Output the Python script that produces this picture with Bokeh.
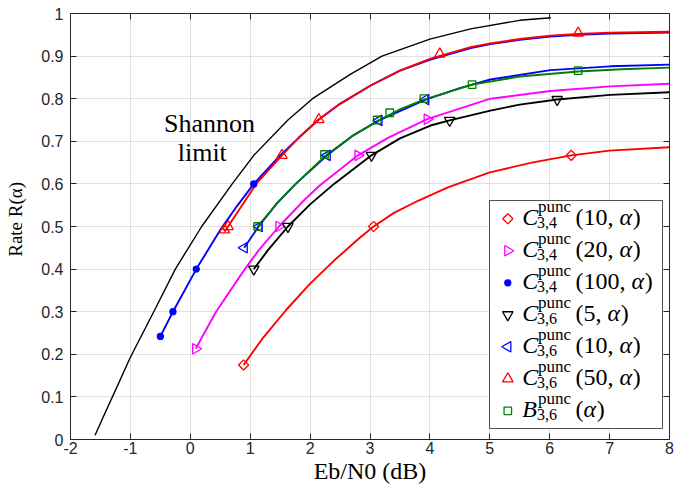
import math
from bokeh.plotting import figure
from bokeh.models import Range1d, LinearAxis, FixedTicker, ColumnDataSource, CustomJSTickFormatter
from bokeh.core.properties import value
from bokeh.embed import file_html
from bokeh.resources import INLINE

# ---------------- data ----------------
x_ticks = [-2, -1, 0, 1, 2, 3, 4, 5, 6, 7, 8]
x_tick_labels = ["-2", "-1", "0", "1", "2", "3", "4", "5", "6", "7", "8"]
y_ticks = [0.0, 0.1, 0.2, 0.3, 0.4, 0.5, 0.6, 0.7, 0.8, 0.9, 1.0]
y_tick_labels = ["0", "0.1", "0.2", "0.3", "0.4", "0.5", "0.6", "0.7", "0.8", "0.9", "1"]

shannon_x = [-1.59, -1.45, -1.30, -1.00, -0.61, -0.25, 0.19, 0.70, 1.06, 1.63, 2.04, 2.67, 3.20, 4.00, 4.68, 5.50, 6.02]
shannon_y = [0.01, 0.054, 0.10, 0.193, 0.30, 0.40, 0.50, 0.60, 0.667, 0.75, 0.80, 0.857, 0.90, 0.94, 0.964, 0.984, 0.99]

c34_10_x = [0.89, 1.20, 1.60, 2.00, 2.40, 2.80, 3.06, 3.40, 3.81, 4.30, 5.00, 5.70, 6.36, 7.00, 8.00]
c34_10_y = [0.175, 0.236, 0.304, 0.366, 0.42, 0.47, 0.50, 0.532, 0.561, 0.592, 0.627, 0.650, 0.667, 0.678, 0.686]
c34_10_mx = [0.89, 3.06, 6.36]
c34_10_my = [0.175, 0.50, 0.667]

c34_20_x = [0.09, 0.43, 0.91, 1.14, 1.48, 1.895, 2.15, 2.80, 3.30, 3.955, 5.01, 6.01, 7.01, 8.00]
c34_20_y = [0.213, 0.30, 0.40, 0.444, 0.50, 0.561, 0.595, 0.667, 0.708, 0.752, 0.80, 0.818, 0.829, 0.835]
c34_20_mx = [0.09, 1.48, 2.80, 3.955]
c34_20_my = [0.213, 0.50, 0.667, 0.752]

c34_100_x = [-0.50, -0.29, 0.10, 0.50, 0.78, 1.06, 1.50, 1.80, 2.145, 2.50, 3.01, 3.50, 4.01, 4.68, 5.01, 5.50, 6.01, 6.475, 7.00, 8.00]
c34_100_y = [0.242, 0.30, 0.40, 0.492, 0.548, 0.60, 0.667, 0.707, 0.751, 0.788, 0.831, 0.866, 0.892, 0.919, 0.928, 0.938, 0.946, 0.950, 0.953, 0.955]
c34_100_mx = [-0.50, -0.29, 0.10, 1.06]
c34_100_my = [0.242, 0.30, 0.40, 0.60]

c36_5_x = [1.06, 1.30, 1.63, 2.00, 2.40, 3.025, 3.50, 4.01, 4.33, 5.01, 5.50, 6.125, 7.01, 8.00]
c36_5_y = [0.40, 0.445, 0.50, 0.552, 0.60, 0.667, 0.707, 0.737, 0.749, 0.772, 0.786, 0.798, 0.809, 0.815]
c36_5_mx = [1.06, 1.63, 3.025, 4.33, 6.125]
c36_5_my = [0.40, 0.50, 0.667, 0.749, 0.798]

c36_10_x = [0.90, 1.14, 1.45, 1.76, 2.285, 2.70, 3.15, 3.93, 4.50, 5.01, 6.01, 7.01, 8.00]
c36_10_y = [0.45, 0.50, 0.555, 0.60, 0.667, 0.712, 0.749, 0.798, 0.825, 0.845, 0.867, 0.876, 0.880]
c36_10_mx = [0.90, 1.15, 2.285, 3.15, 3.93]
c36_10_my = [0.45, 0.50, 0.667, 0.749, 0.798]

c36_50_x = [0.57, 0.63, 1.10, 1.53, 1.80, 2.145, 2.50, 3.01, 3.50, 4.01, 4.68, 5.01, 5.50, 6.01, 6.475, 7.00, 8.00]
c36_50_y = [0.488, 0.50, 0.60, 0.667, 0.707, 0.751, 0.788, 0.831, 0.866, 0.894, 0.921, 0.930, 0.940, 0.948, 0.952, 0.955, 0.957]
c36_50_mx = [0.57, 0.63, 1.53, 2.145, 4.165, 6.475]
c36_50_my = [0.492, 0.50, 0.667, 0.751, 0.905, 0.954]

b36_x = [1.125, 1.45, 1.76, 2.24, 2.70, 3.12, 3.50, 3.90, 4.705, 5.50, 6.475, 7.20, 8.00]
b36_y = [0.50, 0.555, 0.60, 0.664, 0.712, 0.747, 0.775, 0.798, 0.833, 0.852, 0.864, 0.869, 0.873]
b36_mx = [1.125, 2.24, 3.12, 3.33, 3.90, 4.705, 6.475]
b36_my = [0.50, 0.669, 0.75, 0.767, 0.80, 0.833, 0.866]

# legend entries: (letter, subscript, argument)
legend_letter = ["C", "C", "C", "C", "C", "C", "B"]
legend_sub = ["3,4", "3,4", "3,4", "3,6", "3,6", "3,6", "3,6"]
legend_arg = ["10", "20", "100", "5", "10", "50", ""]

x_title = "Eb/N0 (dB)"
y_title = "\u00a0\u00a0\u00a0Rate R(\u03b1)"

# ---------------- styles ----------------
series = [
    dict(cx=c34_10_x, cy=c34_10_y, mx=c34_10_mx, my=c34_10_my, color="#ff0000", marker="square", angle=math.pi / 4, size=7.2, fill=None),
    dict(cx=c34_20_x, cy=c34_20_y, mx=c34_20_mx, my=c34_20_my, color="#ff00ff", marker="triangle", angle=-math.pi / 2, size=10.5, fill=None),
    dict(cx=c34_100_x, cy=c34_100_y, mx=c34_100_mx, my=c34_100_my, color="#0000ff", marker="circle", angle=0.0, size=6, fill="#0000ff"),
    dict(cx=c36_5_x, cy=c36_5_y, mx=c36_5_mx, my=c36_5_my, color="#000000", marker="inverted_triangle", angle=0.0, size=10.5, fill=None),
    dict(cx=c36_10_x, cy=c36_10_y, mx=c36_10_mx, my=c36_10_my, color="#0000ff", marker="triangle", angle=math.pi / 2, size=10.5, fill=None),
    dict(cx=c36_50_x, cy=c36_50_y, mx=c36_50_mx, my=c36_50_my, color="#ff0000", marker="triangle", angle=0.0, size=10.5, fill=None),
    dict(cx=b36_x, cy=b36_y, mx=b36_mx, my=b36_my, color="#008000", marker="square", angle=0.0, size=7.5, fill=None),
]

W, H = 674, 493
ML, MR, MT, MB = 70, 5, 13, 54
FW = W - ML - MR
FH = H - MT - MB
X0, X1, Y0, Y1 = -2.0, 8.0, 0.0, 1.0
AX = "#262626"
SERIF = "Liberation Serif"
BASE_SHIFT = 0.35  # em: text is placed by its middle, so lift it to put the baseline where intended


def fx(sx):
    return X0 + (X1 - X0) * sx / FW


def fy(sy):
    return Y0 + (Y1 - Y0) * sy / FH


p = figure(width=W, height=H, x_range=Range1d(X0, X1), y_range=Range1d(Y0, Y1),
           output_backend="svg", toolbar_location=None,
           min_border_left=ML, min_border_right=MR, min_border_top=MT, min_border_bottom=MB)
p.outline_line_color = None
p.background_fill_color = "white"
p.border_fill_color = "white"


def fmt(ticks, labels):
    return CustomJSTickFormatter(args=dict(tv=ticks, tl=labels), code="""
        for (let i = 0; i < tv.length; i++) { if (Math.abs(tv[i] - tick) < 1e-9) return tl[i]; }
        return '';""")


def style_axis(ax, ticks, labels, show):
    ax.ticker = FixedTicker(ticks=ticks)
    ax.major_tick_in = 6
    ax.major_tick_out = 0
    ax.minor_tick_in = 0
    ax.minor_tick_out = 0
    ax.axis_line_color = AX
    ax.axis_line_width = 1
    ax.major_tick_line_color = AX
    ax.major_tick_line_width = 1
    if show:
        ax.formatter = fmt(ticks, labels)
        ax.major_label_text_font = "Liberation Sans"
        ax.major_label_text_font_size = "16px"
        ax.major_label_text_color = AX
        ax.axis_label_text_font = SERIF
        ax.axis_label_text_font_style = "normal"
        ax.axis_label_text_color = "#000000"
    else:
        ax.major_label_text_font_size = "0px"
        ax.major_label_text_color = None
        ax.major_label_standoff = 0


xa = p.xaxis[0]
style_axis(xa, x_ticks, x_tick_labels, True)
xa.major_label_standoff = 2
xa.axis_label = x_title
xa.axis_label_text_font_size = "24px"
xa.axis_label_standoff = 1

ya = p.yaxis[0]
style_axis(ya, y_ticks, y_tick_labels, True)
ya.major_label_standoff = 7
ya.axis_label = y_title
ya.axis_label_text_font_size = "19px"
ya.axis_label_standoff = 12

top = LinearAxis()
style_axis(top, x_ticks, x_tick_labels, False)
p.add_layout(top, "above")
right = LinearAxis()
style_axis(right, y_ticks, y_tick_labels, False)
p.add_layout(right, "right")

p.xgrid.ticker = FixedTicker(ticks=x_ticks)
p.ygrid.ticker = FixedTicker(ticks=y_ticks)
for g in (p.xgrid[0], p.ygrid[0]):
    g.grid_line_color = "#e0e0e0"
    g.grid_line_width = 1

# ---------------- curves ----------------
p.line(shannon_x, shannon_y, line_color="#000000", line_width=1.4, line_join="round")

for s in series:
    p.line(s["cx"], s["cy"], line_color=s["color"], line_width=1.9, line_join="round")
for s in series:
    p.scatter(s["mx"], s["my"], marker=s["marker"], angle=s["angle"], size=s["size"],
              line_color=s["color"], fill_color=s["fill"], line_width=1.3)

# Shannon limit text (baselines at page y 132 and 161)
lift = BASE_SHIFT * 26 / FH
p.text(x=[0.32, 0.20], y=[0.72 + lift, 0.6526 + lift], text=["Shannon", "limit"],
       text_font=value(SERIF), text_font_size=value("26px"), text_align="center",
       text_baseline="alphabetic", text_color="#000000")

# ---------------- legend ----------------
LEG_R = FW - 7
LEG_W = 173
LEG_L = LEG_R - LEG_W
LEG_T = 239
LEG_B = 11
ROW0 = 220.7
ROW_DY = 32

p.quad(left=[fx(LEG_L)], right=[fx(LEG_R)], bottom=[fy(LEG_B)], top=[fy(LEG_T)],
       fill_color="white", line_color=AX, line_width=0.8)

for i, s in enumerate(series):
    yc = ROW0 - ROW_DY * i
    p.scatter([fx(LEG_L + 18.3)], [fy(yc)], marker=s["marker"], angle=s["angle"], size=s["size"],
              line_color=s["color"], fill_color=s["fill"], line_width=1.3)

W_REG = {"(": 0.333, ")": 0.333, ",": 0.25, " ": 0.25}
ALPHA_W = 0.55
runs = dict(x=[], y=[], text=[], style=[], size=[])


def add_run(sx, sy, t, style, size):
    runs["x"].append(fx(sx))
    runs["y"].append(fy(sy + BASE_SHIFT * size))
    runs["text"].append(t)
    runs["style"].append(style)
    runs["size"].append("%dpx" % size)


for i in range(len(series)):
    yc = ROW0 - ROW_DY * i
    add_run(LEG_L + 32.7, yc - 6.7, legend_letter[i], "italic", 24)
    add_run(LEG_L + 48.5, yc + 6.6, "punc", "normal", 17)
    add_run(LEG_L + 47.5, yc - 9.4, legend_sub[i], "normal", 16)
    sx = LEG_L + 86.0
    head = "(" + (legend_arg[i] + ", " if legend_arg[i] else "")
    add_run(sx, yc - 6.3, head, "normal", 24)
    sx += 24 * sum(W_REG.get(ch, 0.5) for ch in head)
    add_run(sx, yc - 6.3, "\u03b1", "italic", 24)
    sx += 24 * ALPHA_W
    add_run(sx, yc - 6.3, ")", "normal", 24)

p.text(x="x", y="y", text="text", source=ColumnDataSource(runs), text_font=value(SERIF),
       text_font_size="size", text_font_style="style", text_align="left",
       text_baseline="alphabetic", text_color="#000000")

open("out.html", "w").write(file_html(p, INLINE))
